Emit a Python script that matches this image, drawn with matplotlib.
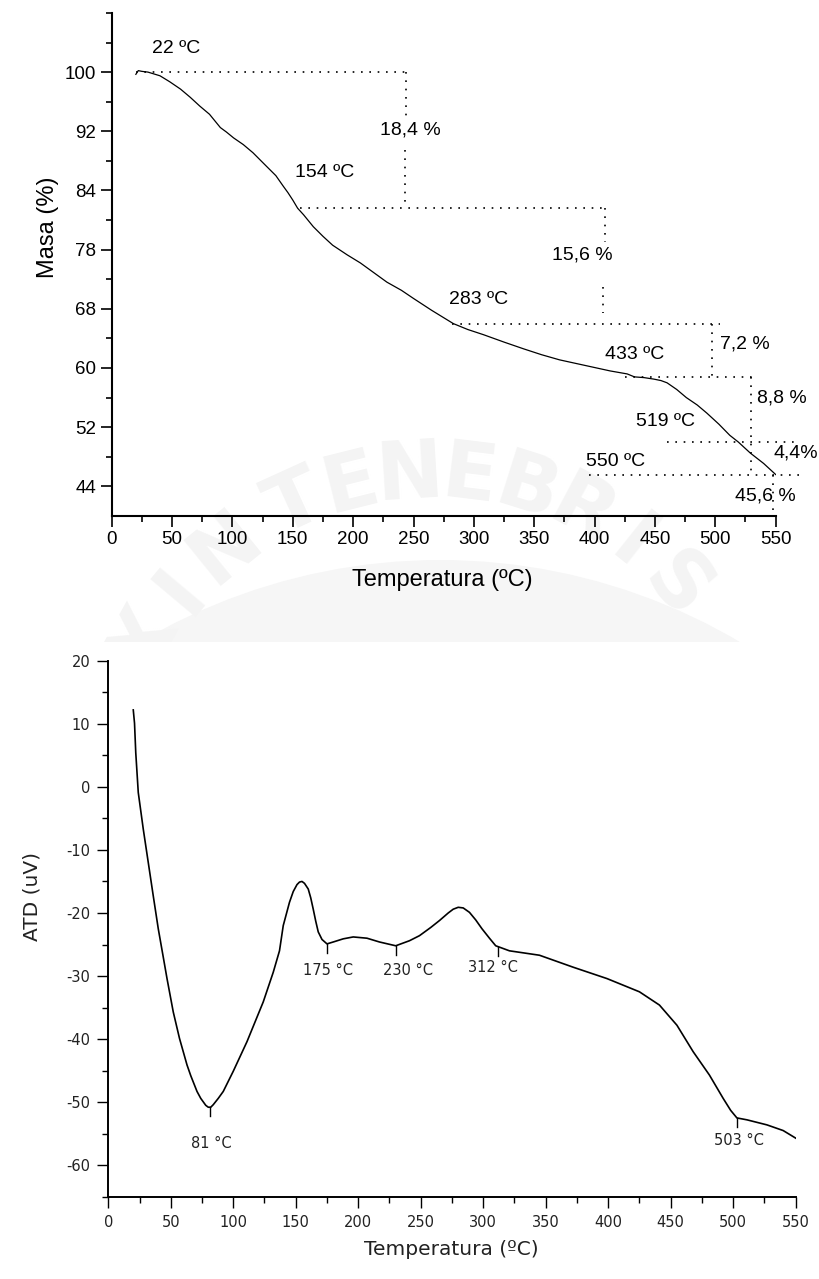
import numpy as np
import matplotlib
matplotlib.use("Agg")
import matplotlib.pyplot as plt
from matplotlib.patches import Circle, Rectangle
from matplotlib.ticker import MultipleLocator, FixedLocator

plt.rcParams["axes.unicode_minus"] = False

# --- TGA: mass loss curve ---
tga_temp = [20, 22, 25, 30, 40, 48, 57, 65, 73, 81, 86, 90, 95, 101, 109, 117, 128,
            136, 142, 146, 150, 154, 159, 163, 167, 175, 183, 195, 206, 217, 228, 240,
            250, 265, 283, 295, 308, 325, 341, 356, 371, 385, 399, 413, 427, 433, 441,
            449, 455, 460, 468, 476, 485, 493, 503, 512, 519, 529, 540, 550]
tga_mass = [99.7, 100.2, 100.1, 100.0, 99.5, 98.7, 97.7, 96.6, 95.4, 94.3, 93.3, 92.5,
            91.9, 91.1, 90.2, 89.1, 87.3, 86.0, 84.6, 83.7, 82.7, 81.6, 80.7, 79.9,
            79.1, 77.8, 76.6, 75.3, 74.2, 72.9, 71.6, 70.5, 69.4, 67.8, 66.0, 65.2,
            64.5, 63.5, 62.6, 61.8, 61.1, 60.6, 60.1, 59.6, 59.2, 58.8, 58.7, 58.5,
            58.3, 58.0, 57.1, 56.0, 55.0, 53.9, 52.4, 50.9, 50.0, 48.5, 47.1, 45.6]

# mass-loss steps and the temperatures that bound them
step_temps = [22, 154, 283, 433, 519, 550]
step_losses = [18.4, 15.6, 7.2, 8.8, 4.4]
residue = 45.6

mass_ticks = [100, 92, 84, 76, 68, 60, 52, 44]
mass_ticklabels = ["100", "92", "84", "78", "68", "60", "52", "44"]

# --- DTA curve ---
atd_temp = [20, 21, 22, 24, 28, 32, 36, 40, 44, 47, 52, 57, 63, 66, 71, 74, 78, 80, 82,
            84, 88, 92, 100, 111, 124, 132, 137, 140, 145, 148, 151, 153, 155, 157,
            160, 162, 164, 166, 168, 171, 175, 180, 188, 196, 207, 217, 230, 241, 249,
            258, 265, 272, 276, 280, 284, 289, 294, 299, 305, 310, 321, 345, 372, 399,
            425, 441, 455, 468, 481, 492, 498, 503, 511, 527, 540, 550]
atd_val = [12.2, 10.1, 5.4, -0.9, -6.7, -12.0, -17.3, -22.5, -27.0, -30.4, -35.7, -39.9,
           -44.1, -45.8, -48.3, -49.4, -50.5, -50.8, -50.8, -50.4, -49.4, -48.3, -45.1,
           -40.4, -34.1, -29.4, -26.0, -22.0, -18.3, -16.6, -15.5, -15.1, -15.0, -15.3,
           -16.2, -17.6, -19.4, -21.3, -23.0, -24.2, -24.9, -24.6, -24.1, -23.8, -24.0,
           -24.6, -25.2, -24.4, -23.6, -22.3, -21.2, -20.0, -19.4, -19.1, -19.2, -19.9,
           -21.1, -22.5, -24.0, -25.2, -26.0, -26.7, -28.6, -30.4, -32.5, -34.6, -37.8,
           -42.0, -45.7, -49.4, -51.3, -52.5, -52.8, -53.6, -54.5, -55.7]
peak_temps = [81, 175, 230, 312, 503]
peak_vals = [-50.8, -24.9, -25.2, -25.4, -52.5]

fig = plt.figure(figsize=(8.19, 12.79), dpi=100)

# faint university seal behind the upper plot
bg = fig.add_axes([0, 0, 1, 1], zorder=0)
bg.set_xlim(0, 819)
bg.set_ylim(1279, 0)
bg.axis("off")
bg.add_patch(Circle((440, 1150), 590, color="#f6f6f6", lw=0))
seal_text = "LUXINTENEBRIS"
seal_angles = [172, 161, 151, 140, 129, 114.5, 104, 93.5, 83, 72.5, 62, 51.5, 41]
cx, cy, r = 430, 800, 325
for ch, ang in zip(seal_text, seal_angles):
    a = np.radians(ang)
    bg.text(cx + r * np.cos(a), cy - r * np.sin(a), ch, rotation=ang - 90,
            ha="center", va="center", fontsize=58, fontweight="bold",
            color="#f4f4f4", family="DejaVu Sans")
bg.add_patch(Rectangle((0, 642), 819, 640, color="white", lw=0, zorder=5))

# ---------------- upper plot: TGA ----------------
top_font = "Liberation Sans"
ax1 = fig.add_axes([0.1364, 0.5966, 0.8107, 0.3933], zorder=1)
ax1.patch.set_alpha(0)
ax1.plot(tga_temp, tga_mass, color="black", lw=0.9)
ax1.set_xlim(0, 550)
ax1.set_ylim(40, 108)
for s in ["top", "right"]:
    ax1.spines[s].set_visible(False)
for s in ["left", "bottom"]:
    ax1.spines[s].set_linewidth(1.5)
ax1.xaxis.set_major_locator(MultipleLocator(50))
ax1.xaxis.set_minor_locator(MultipleLocator(25))
ax1.yaxis.set_major_locator(FixedLocator(mass_ticks))
ax1.set_yticklabels(mass_ticklabels)
ax1.yaxis.set_minor_locator(FixedLocator([108, 104, 96, 88, 80, 72, 64, 56, 48]))
ax1.tick_params(which="major", direction="out", length=8, width=1.2, labelsize=13.5,
                pad=3)
ax1.tick_params(which="minor", direction="out", length=4, width=1.2)
for lbl in ax1.get_xticklabels() + ax1.get_yticklabels():
    lbl.set_family(top_font)

levels = [100.0]
for loss in step_losses:
    levels.append(round(levels[-1] - loss, 1))

dot = dict(color="black", lw=1.2, ls=(0, (1, 4)), clip_on=False)
# horizontal guides at each plateau level
h_spans = [(20, 245), (156, 410), (282, 504), (425, 531), (460, 569), (395, 570)]
for (x0, x1), lev in zip(h_spans, levels):
    ax1.plot([x0, x1], [lev, lev], **dot)
# vertical connectors between levels (broken where the label sits)
ax1.plot([244, 244], [levels[0], 93.9], **dot)
ax1.plot([243, 243], [89.5, levels[1]], **dot)
ax1.plot([409, 409], [levels[1], 77.1], **dot)
ax1.plot([407, 407], [70.9, 67.4], **dot)
ax1.plot([497, 497], [levels[2], 58.4], **dot)
ax1.plot([529.4, 529.4], [levels[3], residue - 0.3], **dot)
ax1.plot([547.6, 547.6], [residue, 40], **dot)

ann = dict(fontsize=14, family=top_font, ha="left", va="center")
ax1.text(33.5, 103.2, f"{step_temps[0]} ºC", **ann)
ax1.text(152, 86.4, f"{step_temps[1]} ºC", **ann)
ax1.text(279.5, 69.2, f"{step_temps[2]} ºC", **ann)
ax1.text(408.6, 61.8, f"{step_temps[3]} ºC", **ann)
ax1.text(434.3, 52.8, f"{step_temps[4]} ºC", **ann)
ax1.text(392.6, 47.3, f"{step_temps[5]} ºC", **ann)
loss_pos = [(222, 92.2, " %"), (365, 75.3, " %"), (504, 63.2, " %"),
            (534.2, 56.0, " %"), (548, 48.5, "%")]
for (x, y, suf), loss in zip(loss_pos, step_losses):
    ax1.text(x, y, f"{loss:.1f}".replace(".", ",") + suf, clip_on=False, **ann)
ax1.text(516.3, 42.7, f"{residue:.1f}".replace(".", ",") + " %", clip_on=False, **ann)

fig.text(0.058, 0.822, "Masa (%)", rotation=90, ha="center", va="center",
         fontsize=17, family=top_font)
fig.text(0.540, 0.5465, "Temperatura (ºC)", ha="center", va="center",
         fontsize=17, family=top_font)

# ---------------- lower plot: DTA ----------------
bot_font = "DejaVu Sans"
ax2 = fig.add_axes([0.1322, 0.0643, 0.8393, 0.4191], zorder=6)
ax2.patch.set_alpha(0)
ax2.plot(atd_temp, atd_val, color="black", lw=1.2)
for t, v in zip(peak_temps, peak_vals):
    ax2.plot([t, t], [v, v - 1.4], color="black", lw=1.0)
ax2.set_xlim(0, 550)
ax2.set_ylim(-65, 20)
for s in ["top", "right"]:
    ax2.spines[s].set_visible(False)
for s in ["left", "bottom"]:
    ax2.spines[s].set_linewidth(1.4)
ax2.xaxis.set_major_locator(MultipleLocator(50))
ax2.xaxis.set_minor_locator(MultipleLocator(25))
ax2.yaxis.set_major_locator(MultipleLocator(10))
ax2.yaxis.set_minor_locator(MultipleLocator(5))
ax2.tick_params(which="major", direction="out", length=8, width=1.0, labelsize=10.5,
                pad=5)
ax2.tick_params(which="minor", direction="out", length=4, width=1.0)
for lbl in ax2.get_xticklabels() + ax2.get_yticklabels():
    lbl.set_family(bot_font)
    lbl.set_color("#222222")

peak_label_pos = [(82.7, -56.5), (175.8, -29.1), (240, -29.1), (307.4, -28.6),
                  (504.6, -56.0)]
for (x, y), t in zip(peak_label_pos, peak_temps):
    ax2.text(x, y, f"{t} °C", ha="center", va="center", fontsize=10.5,
             family=bot_font, color="#222222")

fig.text(0.039, 0.2994, "ATD (uV)", rotation=90, ha="center", va="center",
         fontsize=14.5, family=bot_font, color="#222222")
fig.text(0.551, 0.0227, "Temperatura (ºC)", ha="center", va="center",
         fontsize=14.5, family=bot_font, color="#222222")

fig.savefig("out.png", dpi=100)
